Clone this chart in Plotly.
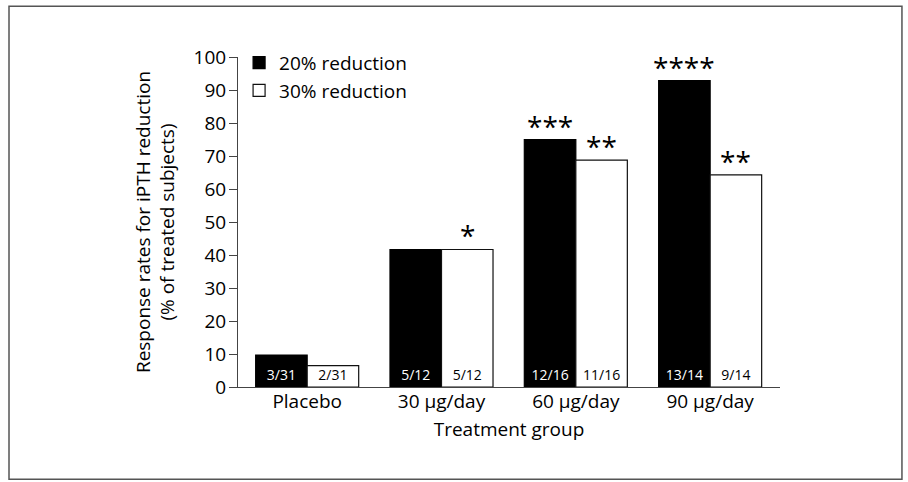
import plotly.graph_objects as go

categories = ["Placebo", "30 µg/day", "60 µg/day", "90 µg/day"]
reduction20 = [9.68, 41.67, 75.0, 92.86]
reduction30 = [6.45, 41.67, 68.75, 64.29]
labels20 = ["3/31", "5/12", "12/16", "13/14"]
labels30 = ["2/31", "5/12", "11/16", "9/14"]
stars20 = ["", "", "***", "****"]
stars30 = ["", "*", "**", "**"]
yticks = [0, 10, 20, 30, 40, 50, 60, 70, 80, 90, 100]

FONT = "Open Sans"
FS = 19
bargap = 0.233
barw = (1 - bargap) / 2

fig = go.Figure()
fig.add_trace(go.Bar(
    x=categories, y=reduction20, name="20% reduction",
    marker=dict(color="black", line=dict(color="black", width=1.2)),
    text=labels20, textposition="inside", insidetextanchor="start",
    constraintext="none", textangle=0,
    insidetextfont=dict(family=FONT, size=14, color="white"),
))
fig.add_trace(go.Bar(
    x=categories, y=reduction30, name="30% reduction",
    marker=dict(color="white", line=dict(color="#111", width=1.2)),
    text=labels30, textposition="inside", insidetextanchor="start",
    constraintext="none", textangle=0,
    insidetextfont=dict(family=FONT, size=14, color="black"),
))

annotations = []
for i in range(len(categories)):
    for vals, stars, off in ((reduction20, stars20, -barw / 2), (reduction30, stars30, barw / 2)):
        if stars[i]:
            annotations.append(dict(
                x=i + off, y=vals[i], xref="x", yref="y", text=stars[i],
                showarrow=False, yanchor="bottom", yshift=-7,
                font=dict(family=FONT, size=28, color="black"),
            ))

fig.update_layout(
    width=908, height=482,
    margin=dict(l=238, r=128, t=57, b=95, pad=0),
    paper_bgcolor="white", plot_bgcolor="white",
    barmode="group", bargap=bargap, bargroupgap=0,
    font=dict(family=FONT, size=FS, color="black"),
    showlegend=True,
    legend=dict(x=0.002, y=1.04, xanchor="left", yanchor="top",
                bgcolor="rgba(0,0,0,0)", font=dict(size=FS),
                itemwidth=30, tracegroupgap=0),
    annotations=annotations,
    shapes=[dict(type="rect", xref="paper", yref="paper",
                 x0=-0.4225, x1=1.225, y0=-0.2797, y1=1.1536,
                 line=dict(color="#555", width=1.5))],
)
fig.update_xaxes(
    type="category", range=[-0.515, 3.52], showline=True, linecolor="#444",
    linewidth=1, ticks="", showgrid=False, zeroline=False,
    tickfont=dict(size=FS), ticklabelstandoff=-3,
    title=dict(text="Treatment group", font=dict(size=FS), standoff=9),
)
fig.update_yaxes(
    range=[0, 100], tickvals=yticks, showline=True, linecolor="#444",
    linewidth=1, ticks="outside", ticklen=8, tickcolor="#444",
    showgrid=False, zeroline=False, tickfont=dict(size=FS),
    ticklabelstandoff=-1,
    title=dict(text="Response rates for iPTH reduction<br>(% of treated subjects)",
               font=dict(size=FS), standoff=13),
)

fig.write_html("out.html", config={"displayModeBar": False},
               post_script="document.body.style.margin='0';")
